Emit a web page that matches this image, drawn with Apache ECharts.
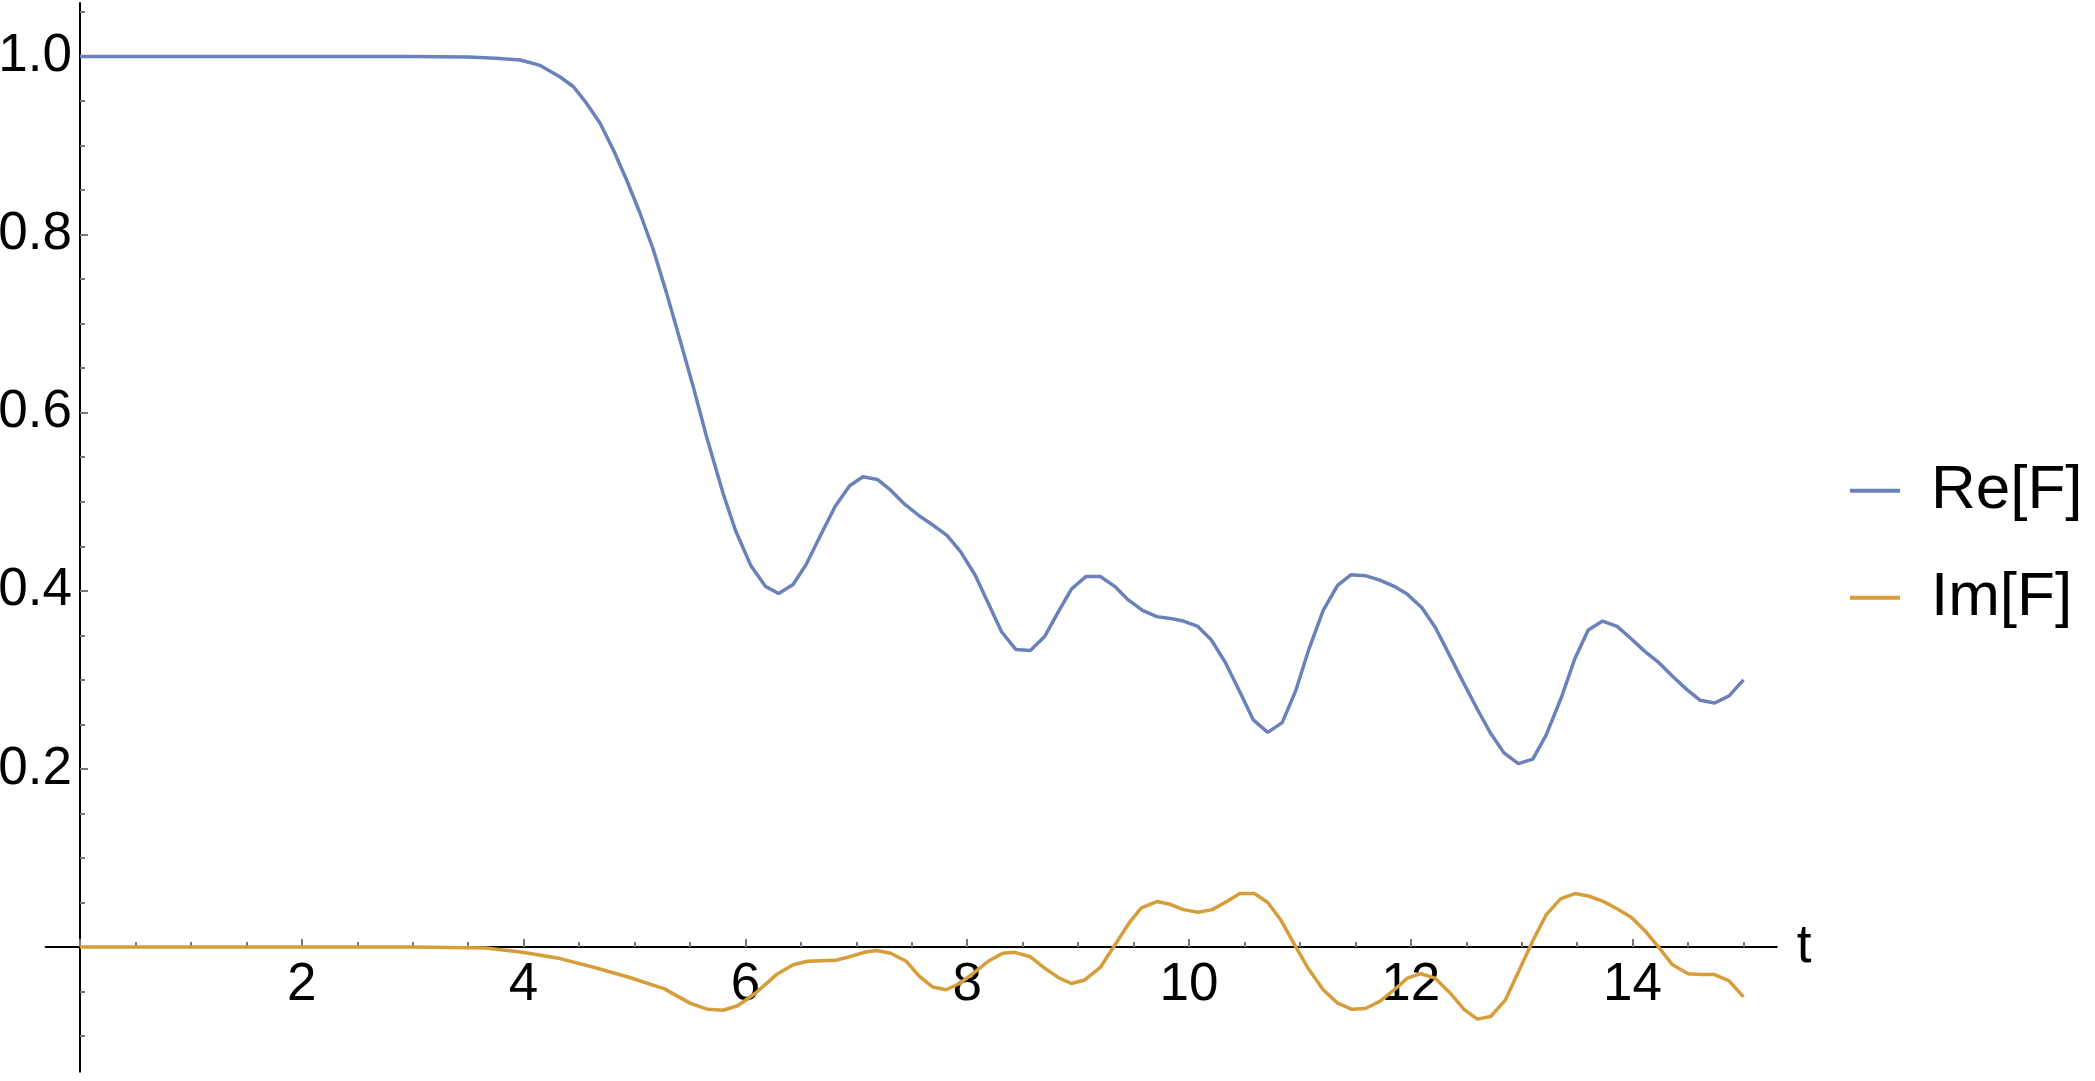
<!DOCTYPE html>
<html>
<head>
<meta charset="utf-8">
<script src="https://cdn.jsdelivr.net/npm/echarts@6/dist/echarts.min.js"></script>
<style>
  html, body { margin: 0; padding: 0; background: #fff; }
  #main { width: 2095px; height: 1081px; }
</style>
</head>
<body>
<div id="main"></div>
<script>
// Re[F] samples [t, value]
var reData = [
  [0, 1], [1, 1], [2, 1], [3, 1], [3.5, 0.9995], [3.75, 0.998], [3.97, 0.996], [4.15, 0.99],
  [4.33, 0.977], [4.45, 0.966], [4.57, 0.947], [4.69, 0.925], [4.81, 0.895], [4.93, 0.861],
  [5.05, 0.824], [5.17, 0.783], [5.29, 0.734], [5.41, 0.682], [5.53, 0.629], [5.65, 0.573],
  [5.80, 0.509], [5.91, 0.468], [6.05, 0.428], [6.18, 0.405], [6.30, 0.397], [6.43, 0.407],
  [6.55, 0.430], [6.68, 0.463], [6.81, 0.495], [6.94, 0.518], [7.06, 0.528], [7.19, 0.525],
  [7.31, 0.513], [7.43, 0.498], [7.57, 0.484], [7.70, 0.473], [7.82, 0.462], [7.94, 0.444],
  [8.07, 0.418], [8.19, 0.386], [8.31, 0.354], [8.44, 0.334], [8.57, 0.333], [8.70, 0.349],
  [8.82, 0.376], [8.94, 0.402], [9.07, 0.416], [9.20, 0.416], [9.33, 0.405], [9.45, 0.390],
  [9.58, 0.378], [9.71, 0.371], [9.83, 0.369], [9.95, 0.366], [10.08, 0.360], [10.20, 0.345],
  [10.33, 0.319], [10.46, 0.286], [10.58, 0.255], [10.71, 0.241], [10.84, 0.252], [10.96, 0.287],
  [11.08, 0.334], [11.21, 0.378], [11.34, 0.406], [11.46, 0.418], [11.59, 0.417], [11.72, 0.412],
  [11.85, 0.405], [11.97, 0.396], [12.10, 0.381], [12.22, 0.359], [12.34, 0.330], [12.47, 0.298],
  [12.60, 0.267], [12.72, 0.240], [12.84, 0.218], [12.97, 0.206], [13.10, 0.211], [13.22, 0.238],
  [13.36, 0.281], [13.48, 0.324], [13.60, 0.356], [13.73, 0.366], [13.86, 0.360], [13.98, 0.347],
  [14.11, 0.332], [14.24, 0.319], [14.36, 0.304], [14.49, 0.289], [14.61, 0.277], [14.74, 0.274],
  [14.87, 0.282], [15.0, 0.300]
];

// Im[F] samples [t, value]
var imData = [
  [0, 0], [3, 0], [3.66, -0.001], [3.99, -0.006], [4.33, -0.013], [4.64, -0.023], [4.95, -0.034],
  [5.27, -0.047], [5.50, -0.063], [5.66, -0.070], [5.80, -0.071], [5.93, -0.066], [6.09, -0.052],
  [6.28, -0.031], [6.43, -0.020], [6.56, -0.016], [6.81, -0.015], [6.94, -0.011], [7.07, -0.006],
  [7.18, -0.004], [7.31, -0.007], [7.45, -0.016], [7.57, -0.033], [7.69, -0.045], [7.81, -0.048],
  [7.93, -0.041], [8.06, -0.029], [8.19, -0.016], [8.32, -0.007], [8.43, -0.006], [8.57, -0.011],
  [8.69, -0.023], [8.83, -0.035], [8.94, -0.041], [9.06, -0.037], [9.20, -0.023], [9.32, 0],
  [9.46, 0.027], [9.57, 0.044], [9.71, 0.051], [9.83, 0.048], [9.95, 0.042], [10.08, 0.039],
  [10.21, 0.042], [10.34, 0.051], [10.46, 0.060], [10.59, 0.060], [10.71, 0.050], [10.83, 0.030],
  [10.95, 0.003], [11.08, -0.025], [11.21, -0.048], [11.34, -0.063], [11.47, -0.070], [11.59, -0.069],
  [11.72, -0.061], [11.85, -0.048], [11.97, -0.035], [12.09, -0.030], [12.22, -0.035], [12.35, -0.051],
  [12.48, -0.070], [12.60, -0.081], [12.72, -0.078], [12.85, -0.060], [12.97, -0.028], [13.10, 0.007],
  [13.22, 0.036], [13.35, 0.054], [13.48, 0.060], [13.61, 0.057], [13.74, 0.051], [13.86, 0.043],
  [13.99, 0.033], [14.12, 0.017], [14.24, -0.001], [14.36, -0.020], [14.50, -0.030], [14.62, -0.031],
  [14.74, -0.031], [14.87, -0.038], [15.00, -0.056]
];

var seriesNames = ['Re[F]', 'Im[F]'];
var xTickLabels = [2, 4, 6, 8, 10, 12, 14];
var yTickLabels = ['0.2', '0.4', '0.6', '0.8', '1.0'];

// pixel mapping of the plot (origin and scale)
var X0 = 80, PX = 110.9, Y0 = 947, PY = 890.5;
function gridFor(xmin, xmax, ymin, ymax) {
  return {
    left: X0 + xmin * PX,
    top: Y0 - ymax * PY,
    width: (xmax - xmin) * PX,
    height: (ymax - ymin) * PY,
    containLabel: false,
    outerBoundsMode: 'none'
  };
}

var font = '"Liberation Sans", Arial, Helvetica, sans-serif';
var tickColor = '#777';

var chart = echarts.init(document.getElementById('main'));
chart.setOption({
  animation: false,
  backgroundColor: '#fff',
  grid: [
    gridFor(-0.31, 15.30, -0.14, 1.06), // data + axis lines
    gridFor(0, 15, -0.1, 1.05),         // minor ticks
    gridFor(0, 14, 0, 1.0)              // major ticks + labels
  ],
  legend: {
    data: seriesNames,
    orient: 'vertical',
    left: 1850,
    top: 449.7,
    padding: 0,
    itemWidth: 50,
    itemHeight: 4,
    itemGap: 25,
    icon: 'rect',
    textStyle: {
      fontFamily: font, fontSize: 62, lineHeight: 62, color: '#000',
      padding: [0, 0, 20, 26]
    }
  },
  xAxis: [
    {
      type: 'value', gridIndex: 0, min: -0.31, max: 15.30,
      axisLine: { show: true, onZero: true, lineStyle: { color: '#000', width: 2 } },
      axisTick: { show: false }, axisLabel: { show: false }, splitLine: { show: false },
      name: 't', nameLocation: 'end', nameGap: 20,
      nameTextStyle: { fontFamily: font, fontSize: 53, color: '#000', verticalAlign: 'middle' }
    },
    {
      type: 'value', gridIndex: 1, min: 0, max: 15, interval: 0.5,
      axisLine: { show: false, onZero: true },
      axisTick: { show: true, inside: true, length: 5, lineStyle: { color: tickColor, width: 2 } },
      axisLabel: { show: false }, splitLine: { show: false }
    },
    {
      type: 'value', gridIndex: 2, min: 0, max: 14, interval: 2,
      axisLine: { show: false, onZero: true },
      axisTick: { show: true, inside: true, length: 8, lineStyle: { color: tickColor, width: 2 } },
      axisLabel: {
        show: true, margin: 12, fontFamily: font, fontSize: 53, color: '#000', hideOverlap: false,
        formatter: function (v) { return xTickLabels.indexOf(v) >= 0 ? String(v) : ''; }
      },
      splitLine: { show: false }
    }
  ],
  yAxis: [
    {
      type: 'value', gridIndex: 0, min: -0.14, max: 1.06,
      axisLine: { show: true, onZero: true, lineStyle: { color: '#000', width: 2 } },
      axisTick: { show: false }, axisLabel: { show: false }, splitLine: { show: false }
    },
    {
      type: 'value', gridIndex: 1, min: -0.1, max: 1.05, interval: 0.05,
      axisLine: { show: false, onZero: true },
      axisTick: { show: true, inside: true, length: 5, lineStyle: { color: tickColor, width: 2 } },
      axisLabel: { show: false }, splitLine: { show: false }
    },
    {
      type: 'value', gridIndex: 2, min: 0, max: 1.0, interval: 0.2,
      axisLine: { show: false, onZero: true },
      axisTick: { show: true, inside: true, length: 8, lineStyle: { color: tickColor, width: 2 } },
      axisLabel: {
        show: true, margin: 8, fontFamily: font, fontSize: 53, color: '#000', hideOverlap: false,
        formatter: function (v) {
          var s = v.toFixed(1);
          return yTickLabels.indexOf(s) >= 0 ? s : '';
        }
      },
      splitLine: { show: false }
    }
  ],
  series: [
    {
      name: seriesNames[0], type: 'line', xAxisIndex: 0, yAxisIndex: 0,
      data: reData, showSymbol: false, symbol: 'none', smooth: false,
      color: '#6a82b9', lineStyle: { color: '#6a82b9', width: 3.5 }
    },
    {
      name: seriesNames[1], type: 'line', xAxisIndex: 0, yAxisIndex: 0,
      data: imData, showSymbol: false, symbol: 'none', smooth: false,
      color: '#d69d38', lineStyle: { color: '#d69d38', width: 3.5 }
    }
  ]
});
</script>
</body>
</html>
